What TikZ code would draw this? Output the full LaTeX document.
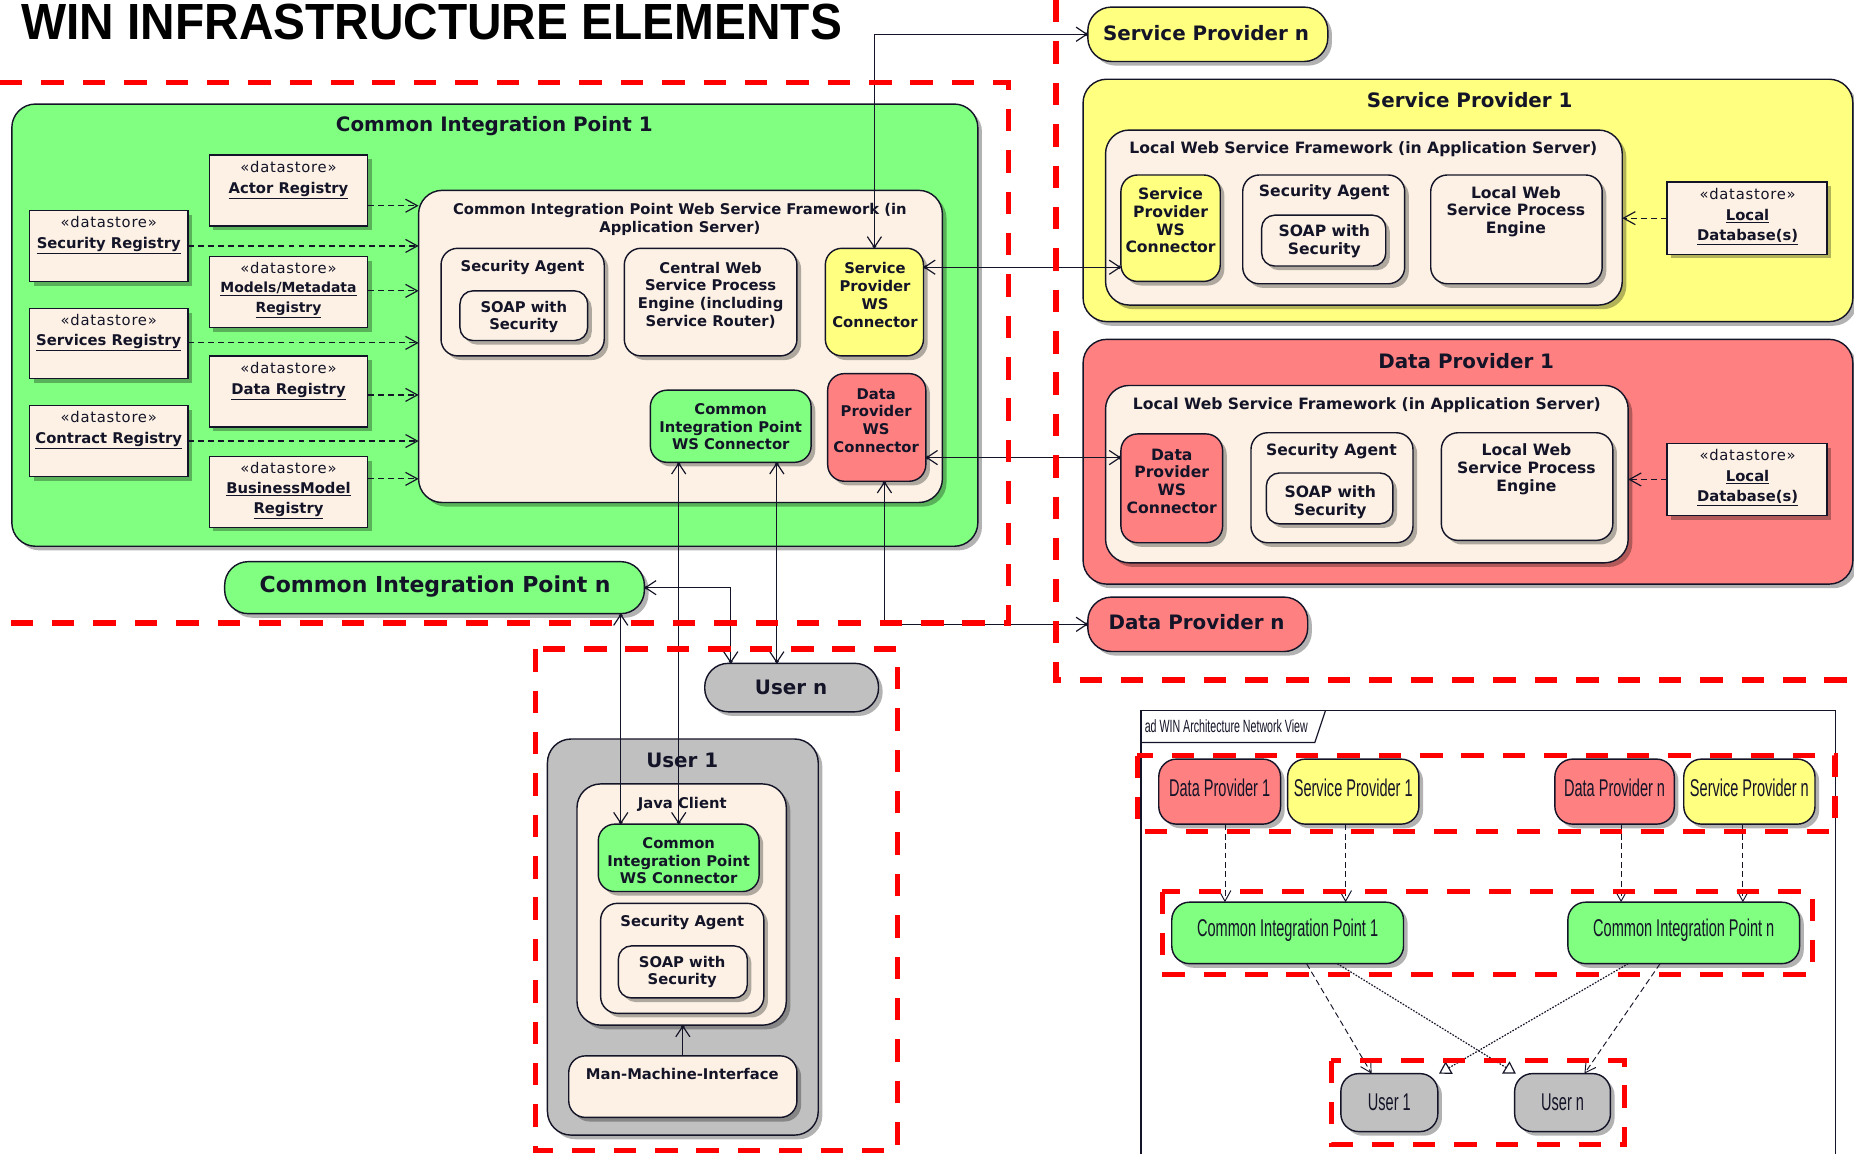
\documentclass[tikz,border=0pt]{standalone}
\usepackage{fontspec}
\setmainfont{DejaVu Sans}
\newfontfamily\stereofont[LetterSpace=5]{DejaVu Sans}
\newfontfamily\narrowfont[FakeStretch=0.6]{Liberation Sans}
\newfontfamily\headfont[FakeStretch=0.94]{Liberation Sans}
\usetikzlibrary{arrows.meta,shadows}

\definecolor{cipgreen}{RGB}{128,255,128}
\definecolor{spyellow}{RGB}{255,255,128}
\definecolor{dpred}{RGB}{255,128,128}
\definecolor{usergray}{RGB}{192,192,192}
\definecolor{paper}{RGB}{252,241,228}
\definecolor{zonered}{RGB}{255,0,0}
\definecolor{ink}{RGB}{20,20,40}

% element placed by its top-left and bottom-right corners
\newcommand\elem[6]{%
  \pgfmathsetmacro\elw{#5-#3}\pgfmathsetmacro\elh{#6-#4}%
  \node[#1,anchor=north west,minimum width=\elw pt,minimum height=\elh pt] (#2) at (#3,#4) {};}

\tikzset{
  shadowed/.style={drop shadow={shadow xshift=3.5pt,shadow yshift=-3.5pt,fill=black,opacity=0.3}},
  el/.style={draw=ink,line width=1.2pt,inner sep=0pt,outer sep=0pt,shadowed},
  container/.style={el,rounded corners=20pt,fill=#1},
  part/.style={el,rounded corners=14pt,fill=#1},
  soapbox/.style={el,rounded corners=11pt,fill=paper},
  store/.style={el,fill=paper},
  pill/.style={el,rounded corners=20pt,fill=#1},
  flow/.style={el,rounded corners=15pt,fill=#1},
  txt/.style={inner sep=0pt,align=center,text=ink},
  tsmall/.style={txt,font=\fontsize{12.5}{15}\selectfont\bfseries},
  tprov/.style={txt,font=\fontsize{13.2}{15}\selectfont\bfseries},
  tstereo/.style={txt,font=\stereofont\fontsize{12.5}{15}\selectfont},
  tname/.style={txt,font=\fontsize{12.5}{17}\selectfont\bfseries},
  tbig/.style={txt,font=\fontsize{16.8}{19}\selectfont\bfseries},
  tnarrow/.style={txt,font=\narrowfont\fontsize{20.5}{22}\selectfont},
  zone/.style={draw=zonered,line width=4.5pt,dash pattern=on 19pt off 16pt},
  dep/.style={draw=ink,line width=1pt,dash pattern=on 5pt off 3.5pt,-{Straight Barb[length=10pt,width=11pt]}},
  assoc/.style={draw=ink,line width=1pt,-{Straight Barb[length=9pt,width=12pt,sep=-3pt]Circle[length=3pt]}},
  both/.style={draw=ink,line width=1pt,
    {Circle[length=3pt]Straight Barb[length=9pt,width=12pt,sep=-3pt]}-{Straight Barb[length=9pt,width=12pt,sep=-3pt]Circle[length=3pt]}},
  bdash/.style={draw=ink,line width=0.8pt,dash pattern=on 5pt off 3pt,-{Straight Barb[length=9pt,width=10pt]}},
  bdot/.style={draw=ink,line width=1pt,dash pattern=on 1.4pt off 1.2pt,-{Triangle[open,length=10pt,width=12pt]}},
}

\begin{document}
\begin{tikzpicture}[x=1pt,y=-1pt]
\useasboundingbox (0,0) rectangle (1568,976);
\fill[white] (0,0) rectangle (1568,976);

% heading
\node[anchor=base west,inner sep=0pt,font=\headfont\fontsize{43}{43}\selectfont\bfseries] (heading) at (18,33) {WIN INFRASTRUCTURE ELEMENTS};

% ---------------- Common Integration Point 1 ----------------
\elem{container=cipgreen}{cip}{10}{88}{827}{462}
\node[tbig] (cip-t) at (418,107) {Common Integration Point 1};

% registries
\elem{store}{actor}{177}{131}{311}{191}
\node[tstereo] (actor-s) at (244,141) {«datastore»};
\node[tname] (actor-t) at (244,161) {\underline{Actor Registry}};
\elem{store}{secreg}{25}{178}{159}{238}
\node[tstereo] (secreg-s) at (92,188) {«datastore»};
\node[tname] (secreg-t) at (92,208) {\underline{Security Registry}};
\elem{store}{models}{177}{217}{311}{277}
\node[tstereo] (models-s) at (244,227) {«datastore»};
\node[tname,font=\fontsize{11.8}{17}\selectfont\bfseries] (models-t) at (244,253.5) {\underline{Models/Metadata}\\\underline{Registry}};
\elem{store}{services}{25}{261}{159}{320}
\node[tstereo] (services-s) at (92,271) {«datastore»};
\node[tname] (services-t) at (92,290) {\underline{Services Registry}};
\elem{store}{datareg}{177}{301}{311}{361}
\node[tstereo] (datareg-s) at (244,311) {«datastore»};
\node[tname] (datareg-t) at (244,331) {\underline{Data Registry}};
\elem{store}{contract}{25}{343}{159}{403}
\node[tstereo] (contract-s) at (92,353) {«datastore»};
\node[tname] (contract-t) at (92,373) {\underline{Contract Registry}};
\elem{store}{bizmodel}{177}{386}{311}{446}
\node[tstereo] (bizmodel-s) at (244,396) {«datastore»};
\node[tname] (bizmodel-t) at (244,423.5) {\underline{BusinessModel}\\\underline{Registry}};

% web service framework of the integration point
\elem{container=paper}{fw}{354}{161}{797}{425}
\node[tsmall] (fw-t) at (575,185.5) {Common Integration Point Web Service Framework (in\\Application Server)};
\elem{part=paper}{csa}{373}{210}{511}{301}
\node[tsmall] (csa-t) at (442,226) {Security Agent};
\elem{soapbox}{csoap}{389}{246}{497}{288}
\node[tsmall] (csoap-t) at (443,268) {SOAP with\\Security};
\elem{part=paper}{ceng}{528}{210}{674}{301}
\node[tsmall] (ceng-t) at (601,249.5) {Central Web\\Service Process\\Engine (including\\Service Router)};
\elem{part=spyellow}{cspc}{698}{210}{781}{301}
\node[tsmall] (cspc-t) at (740,249.5) {Service\\Provider\\WS\\Connector};
\elem{part=cipgreen}{ccw}{550}{330}{686}{391}
\node[tsmall] (ccw-t) at (618,361) {Common\\Integration Point\\WS Connector};
\elem{part=dpred}{cdpc}{700}{316}{783}{407}
\node[tsmall] (cdpc-t) at (741,355.5) {Data\\Provider\\WS\\Connector};

% registry dependencies
\foreach \s/\yy in {actor/174,secreg/208,models/246,services/290,datareg/334,contract/373,bizmodel/405}{
  \coordinate (lv) at (0,\yy);
  \draw[dep] (\s.east |- lv) -- (fw.west |- lv);
}

% ---------------- other integration points and users ----------------
\elem{pill=cipgreen}{cipn}{190}{475}{545}{519}
\node[tbig,font=\fontsize{18.6}{20}\selectfont\bfseries] (cipn-t) at (368,496) {Common Integration Point n};
\elem{pill=usergray}{usern}{596}{561}{743}{602}
\node[tbig] (usern-t) at (669,581) {User n};

\elem{container=usergray}{user}{463}{625}{692}{960}
\node[tbig] (user-t) at (577,643) {User 1};
\elem{container=paper}{jc}{488}{663}{665}{867}
\node[tsmall] (jc-t) at (577,680) {Java Client};
\elem{part=cipgreen}{jcw}{506}{697}{642}{754}
\node[tsmall] (jcw-t) at (574,728) {Common\\Integration Point\\WS Connector};
\elem{part=paper}{jsa}{508}{764}{646}{857}
\node[tsmall] (jsa-t) at (577,780) {Security Agent};
\elem{soapbox}{jsoap}{523}{800}{632}{844}
\node[tsmall] (jsoap-t) at (577,822) {SOAP with\\Security};
\elem{part=paper}{mmi}{481}{893}{674}{945}
\node[tsmall] (mmi-t) at (577,908) {Man-Machine-Interface};

% ---------------- Service Provider 1 ----------------
\elem{pill=spyellow}{spn}{920}{6}{1123}{52}
\node[tbig] (spn-t) at (1020,28) {Service Provider n};
\elem{container=spyellow}{sp}{916}{67}{1567}{272}
\node[tbig] (sp-t) at (1243,85) {Service Provider 1};
\elem{container=paper}{spfw}{935}{110}{1372}{258}
\node[tprov] (spfw-t) at (1153,126) {Local Web Service Framework (in Application Server)};
\elem{part=spyellow}{pspc}{948}{148}{1032}{238}
\node[tprov] (pspc-t) at (990,186.5) {Service\\Provider\\WS\\Connector};
\elem{part=paper}{psa}{1051}{148}{1188}{240}
\node[tprov] (psa-t) at (1120,163) {Security Agent};
\elem{soapbox}{psoap}{1067}{182}{1172}{225}
\node[tprov] (psoap-t) at (1120,204) {SOAP with\\Security};
\elem{part=paper}{peng}{1210}{148}{1355}{240}
\node[tprov] (peng-t) at (1282,179) {Local Web\\Service Process\\Engine};
\elem{store}{pdb}{1410}{154}{1545}{215}
\node[tstereo] (pdb-s) at (1478,164) {«datastore»};
\node[tname] (pdb-t) at (1478,192) {\underline{Local}\\\underline{Database(s)}};
\draw[dep] (pdb.west) -- (pdb.west -| spfw.east);

% ---------------- Data Provider 1 ----------------
\elem{container=dpred}{dp}{916}{287}{1567}{494}
\node[tbig] (dp-t) at (1240,305) {Data Provider 1};
\elem{container=paper}{dpfw}{935}{326}{1377}{476}
\node[tprov] (dpfw-t) at (1156,343) {Local Web Service Framework (in Application Server)};
\elem{part=dpred}{pdpc}{948}{367}{1034}{459}
\node[tprov] (pdpc-t) at (991,407) {Data\\Provider\\WS\\Connector};
\elem{part=paper}{dsa}{1058}{366}{1195}{459}
\node[tprov] (dsa-t) at (1126,382) {Security Agent};
\elem{soapbox}{dsoap}{1071}{400}{1178}{443}
\node[tprov] (dsoap-t) at (1125,425) {SOAP with\\Security};
\elem{part=paper}{deng}{1219}{366}{1364}{457}
\node[tprov] (deng-t) at (1291,397) {Local Web\\Service Process\\Engine};
\elem{store}{ddb}{1410}{375}{1545}{436}
\node[tstereo] (ddb-s) at (1478,385) {«datastore»};
\node[tname] (ddb-t) at (1478,413) {\underline{Local}\\\underline{Database(s)}};
\draw[dep] (ddb.west) -- (ddb.west -| dpfw.east);

\elem{pill=dpred}{dpn}{920}{505}{1106}{551}
\node[tbig] (dpn-t) at (1012,526) {Data Provider n};

% ---------------- associations ----------------
\coordinate (ySP) at (0,226);
\coordinate (yDP) at (0,387);
\coordinate (xUn) at (657,0);
\coordinate (xCn) at (618,0);
\coordinate (xJc) at (525,0);
\coordinate (xDc) at (748,0);
\draw[both] (cspc.north) |- (spn.west);
\draw[both] (cdpc.south -| xDc) |- (dpn.west);
\draw[both] (cspc.east |- ySP) -- (pspc.west |- ySP);
\draw[both] (cdpc.east |- yDP) -- (pdpc.west |- yDP);
\draw[both] (ccw.south -| jcw.north) -- (jcw.north);
\draw[both] (ccw.south -| xUn) -- (usern.north -| xUn);
\draw[both] (cipn.east) -| (usern.north -| xCn);
\draw[both] (cipn.south -| xJc) -- (jcw.north -| xJc);
\draw[assoc] (mmi.north) -- (mmi.north |- jc.south);

% ---------------- network view ----------------
\draw[draw=ink,line width=1pt] (965,976) -- (965,601) -- (1552,601) -- (1552,976);
\draw[draw=ink,line width=1pt] (965,628) -- (1112,628) -- (1121,601);
\node[txt,anchor=west,font=\narrowfont\fontsize{15}{17}\selectfont] (view-t) at (968,614.5) {ad WIN Architecture Network View};

\elem{flow=dpred}{bdp1}{980}{642}{1083}{697}
\node[tnarrow] (bdp1-t) at (1031.5,666) {Data Provider 1};
\elem{flow=spyellow}{bsp1}{1089}{642}{1200}{697}
\node[tnarrow] (bsp1-t) at (1144.5,666) {Service Provider 1};
\elem{flow=dpred}{bdpn}{1315}{642}{1416}{697}
\node[tnarrow] (bdpn-t) at (1365.5,666) {Data Provider n};
\elem{flow=spyellow}{bspn}{1424}{642}{1535}{697}
\node[tnarrow] (bspn-t) at (1479.5,666) {Service Provider n};
\elem{flow=cipgreen}{bcip1}{991}{763}{1187}{815}
\node[tnarrow] (bcip1-t) at (1089,787) {Common Integration Point 1};
\elem{flow=cipgreen}{bcipn}{1326}{763}{1522}{815}
\node[tnarrow] (bcipn-t) at (1424,787) {Common Integration Point n};
\elem{flow=usergray}{bu1}{1134}{908}{1216}{957}
\node[tnarrow] (bu1-t) at (1175,932) {User 1};
\elem{flow=usergray}{bun}{1281}{908}{1362}{957}
\node[tnarrow] (bun-t) at (1321.5,932) {User n};

\foreach \a/\b/\xx in {bdp1/bcip1/1036,bsp1/bcip1/1138,bdpn/bcipn/1371,bspn/bcipn/1474}{
  \coordinate (bx) at (\xx,0);
  \draw[bdash] (\a.south -| bx) -- (\b.north -| bx);
}
\coordinate (s1) at (1105,0); \coordinate (e1) at (1160,0);
\coordinate (s2) at (1131,0); \coordinate (e2) at (1282,0);
\coordinate (s3) at (1377,0); \coordinate (e3) at (1217,0);
\coordinate (s4) at (1404,0); \coordinate (e4) at (1340,0);
\draw[bdash] (bcip1.south -| s1) -- (bu1.north -| e1);
\draw[bdot]  (bcip1.south -| s2) -- (bun.north -| e2);
\draw[bdot]  (bcipn.south -| s3) -- (bu1.north -| e3);
\draw[bdash] (bcipn.south -| s4) -- (bun.north -| e4);

% ---------------- deployment zones ----------------
\draw[zone] (0,70) -- (853,70) -- (853,527) -- (0,527);
\draw[zone] (893,0) -- (893,575) -- (1568,575);
\draw[zone] (453,549) rectangle (759,973);
\draw[zone] (962,639) rectangle (1552,703);
\draw[zone] (983,754) rectangle (1533,824);
\draw[zone] (1126,897) rectangle (1374,968);
\end{tikzpicture}
\end{document}
